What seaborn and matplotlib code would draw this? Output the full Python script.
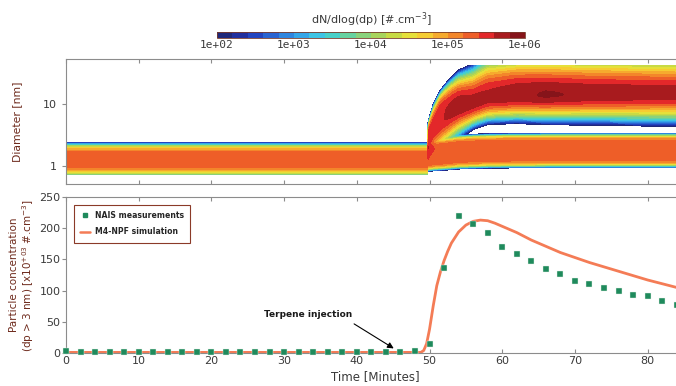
import numpy as np
import matplotlib
matplotlib.use("Agg")
import matplotlib.pyplot as plt
from matplotlib.lines import Line2D
from matplotlib.colors import ListedColormap
import seaborn as sns

# ---------------- data: bottom panel ----------------
nais_time = [0, 2, 4, 6, 8, 10, 12, 14, 16, 18, 20, 22, 24, 26, 28, 30, 32, 34, 36, 38, 40,
             42, 44, 46, 48, 50, 52, 54, 56, 58, 60, 62, 64, 66, 68, 70, 72, 74, 76, 78, 80, 82, 84]
nais_conc = [4, 1, 1, 1, 1, 1, 1, 1, 1, 1, 1, 1, 1, 1, 1, 1, 1, 1, 1, 1, 1,
             1, 1, 1, 4, 14, 137, 220, 207, 192, 170, 159, 147, 135, 127, 116, 110, 104, 100, 93, 91, 83, 77]

sim_time = [0, 10, 20, 30, 40, 48.8, 49.2, 49.6, 50.0, 50.5, 51.0, 51.5, 52.0, 52.5, 53, 54, 55, 56,
            57, 58, 59, 60, 62, 64, 66, 68, 70, 72, 74, 76, 78, 80, 82, 84, 85]
sim_conc = [1, 1, 1, 1, 1, 1, 4, 15, 38, 75, 108, 130, 148, 163, 176, 194, 205, 211,
            213, 212, 208, 203, 193, 181, 171, 161, 153, 145, 138, 131, 124, 117, 111, 105, 102]

# ---------------- data: size-distribution modes (top panel) ----------------
injection_time = 49.8
# pre-injection cluster mode
A_diam, A_peak, A_slo, A_shi, A_pow = 1.27, 5.35, 0.215, 0.203, 3.8
# post-injection knots
knot_time = [49.8, 50.5, 51.5, 52.5, 54, 56, 58, 62, 66, 72, 85]
B_diam = [1.45, 1.5, 1.55, 1.6, 1.68, 1.72, 1.75, 1.77, 1.78, 1.78, 1.78]
B_peak = [5.38, 5.38, 5.38, 5.38, 5.37, 5.36, 5.35, 5.35, 5.35, 5.35, 5.35]
B_width = [0.205, 0.21, 0.215, 0.22, 0.225, 0.228, 0.229, 0.229, 0.229, 0.229, 0.229]
C_diam = [2.6, 3.6, 5.0, 6.3, 8.5, 10, 12, 13.5, 14, 14.6, 15]
C_peak = [5.55, 5.55, 5.57, 5.62, 5.72, 5.69, 5.66, 5.75, 5.82, 5.77, 5.71]
C_slo = [0.25, 0.26, 0.28, 0.28, 0.26, 0.215, 0.215, 0.23, 0.245, 0.26, 0.28]
C_shi = [0.225, 0.323, 0.412, 0.421, 0.404, 0.394, 0.448, 0.434, 0.41, 0.385, 0.36]
C_phi = [4, 4, 5, 4, 3, 2.5, 2.5, 2.5, 2.2, 2, 2]
diam_range = (0.74, 43.0)

# colour of each of the 20 contour bands (1e2 ... 1e6, five per decade)
band_colors = ["#20287a", "#222f9e", "#2344c0", "#2a64d2", "#2f86e0",
               "#35a6e8", "#3ec4e4", "#48d0c8", "#68d2a0", "#8ad27c",
               "#a8d45c", "#c8da44", "#e6e03a", "#f6cc32", "#f6aa2e",
               "#f3862a", "#ee5e28", "#e3282a", "#a81b1e", "#86141a"]
cbar_ticks = [2, 3, 4, 5, 6]
cbar_labels = ["1e+02", "1e+03", "1e+04", "1e+05", "1e+06"]

# ---------------- build field ----------------
t = np.arange(0, 85.001, 0.1)
u = np.linspace(np.log10(diam_range[0]), np.log10(diam_range[1]), 320)
T, U = np.meshgrid(t, u)


def mode(uu, uc, peak, slo, shi, plo, phi):
    dist = uu - uc
    drop = np.where(dist < 0, (np.abs(dist) / slo) ** plo, (np.abs(dist) / shi) ** phi)
    return 10 ** (peak - drop)


def kn(arr):
    return np.interp(T, knot_time, arr)


pre = mode(U, np.log10(A_diam), A_peak, A_slo, A_shi, A_pow, A_pow)
modeB = mode(U, np.log10(kn(B_diam)), kn(B_peak), kn(B_width), kn(B_width), 6, 6)
modeC = mode(U, np.log10(kn(C_diam)), kn(C_peak), kn(C_slo), kn(C_shi), 2, kn(C_phi))
N = np.where(T < injection_time, pre, modeB + modeC)
L = np.log10(np.maximum(N, 1e-3))
L = np.minimum(L, 5.995)

cmap = ListedColormap(band_colors)

# ---------------- style ----------------
sns.set_style("ticks")
plt.rcParams["font.family"] = ["DejaVu Sans"]
spine_c = "#8c8c8c"
text_c = "#3a3a3a"
label_c = "#6e2a1c"

fig = plt.figure(figsize=(6.76, 3.86), dpi=100)
fig.patch.set_facecolor("white")

W, H = 676.0, 386.0
left = 66 / W
width = (684 - 66) / W

# ---------------- top panel ----------------
ax1 = fig.add_axes([left, 1 - 184 / H, width, (184 - 59) / H])
levels = np.linspace(2, 6, 21)
cf = ax1.contourf(T, 10 ** U, L, levels=levels, cmap=cmap)
ax1.set_yscale("log")
ax1.set_ylim(0.51, 54)
ax1.set_xlim(0, 85)
ax1.set_yticks([1, 10])
ax1.set_yticklabels(["1", "10"])
ax1.yaxis.set_minor_locator(matplotlib.ticker.NullLocator())
ax1.set_xticks(np.arange(0, 90, 10))
ax1.tick_params(axis="x", direction="in", top=True, bottom=True, labelbottom=False,
                length=3, color=spine_c)
ax1.tick_params(axis="y", direction="out", length=3, color=spine_c, labelsize=8, labelcolor=text_c)
ax1.set_ylabel("Diameter [nm]", fontsize=7.8, color=label_c)
ax1.yaxis.set_label_coords(-0.071, 0.5)

# ---------------- bottom panel ----------------
ax2 = fig.add_axes([left, 1 - 353 / H, width, (353 - 197) / H])
sns.lineplot(x=sim_time, y=sim_conc, ax=ax2, color="#f47c56", linewidth=2.0, sort=True,
             zorder=2)
sns.scatterplot(x=nais_time, y=nais_conc, ax=ax2, marker="s", s=14, color="#1f8a5c",
                edgecolor="#e8f2e8", linewidth=0.3, zorder=3, clip_on=False)
ax2.set_xlim(0, 85)
ax2.set_ylim(0, 250)
ax2.set_xticks(np.arange(0, 90, 10))
ax2.set_yticks(np.arange(0, 260, 50))
ax2.tick_params(axis="x", direction="in", top=True, bottom=True, length=3, color=spine_c,
                labelsize=8, labelcolor=text_c, pad=2)
ax2.tick_params(axis="y", direction="out", length=3, color=spine_c, labelsize=8,
                labelcolor=text_c, pad=1)
ax2.set_xlabel("Time [Minutes]", fontsize=8.5, color=text_c, labelpad=3)
ax2.set_ylabel("Particle concentration\n(dp > 3 nm) [x10$^{+03}$ #.cm$^{-3}$]",
               fontsize=7.5, color=label_c, linespacing=1.15)
ax2.yaxis.set_label_coords(-0.048, 0.5)

handles = [Line2D([], [], marker="s", linestyle="none", color="#1f8a5c", markersize=3),
           Line2D([], [], color="#f47c56", linewidth=1.8)]
leg = ax2.legend(handles, ["NAIS measurements", "M4-NPF simulation"], loc="upper left",
                 bbox_to_anchor=(0.013, 0.95), borderaxespad=0, fancybox=False,
                 framealpha=1, edgecolor="#8b3a28", handlelength=1.2, handletextpad=0.7,
                 prop={"size": 5.6, "weight": "bold"}, borderpad=0.8, labelspacing=0.95)
leg.get_frame().set_linewidth(0.8)

ax2.annotate("", xy=(45.4, 5), xytext=(39.3, 49),
             arrowprops=dict(arrowstyle="-|>", color="black", lw=0.8, mutation_scale=9))
ax2.text(33.3, 61, "Terpene injection", fontsize=6.5, fontweight="bold", ha="center",
         va="center", color="#1a1a1a")

for ax in (ax1, ax2):
    for side in ("left", "top", "bottom"):
        ax.spines[side].set_color(spine_c)
        ax.spines[side].set_linewidth(0.8)
    ax.spines["right"].set_visible(False)

# ---------------- colorbar ----------------
cax = fig.add_axes([217 / W, 1 - 37.5 / H, (525 - 217) / W, 6 / H])
cb = fig.colorbar(cf, cax=cax, orientation="horizontal")
cb.set_ticks(cbar_ticks)
cb.set_ticklabels(cbar_labels)
cb.ax.tick_params(length=0, labelsize=8, labelcolor=text_c, pad=2)
for lab in cb.ax.get_xticklabels():
    lab.set_fontfamily("DejaVu Sans Mono")
cb.outline.set_edgecolor("#7a3a2a")
cb.outline.set_linewidth(0.6)
fig.text(371 / W, 1 - 20 / H, "dN/dlog(dp) [#.cm$^{-3}$]", fontsize=8, color=text_c,
         ha="center", va="center")

fig.savefig("out.png", dpi=100, facecolor="white")
